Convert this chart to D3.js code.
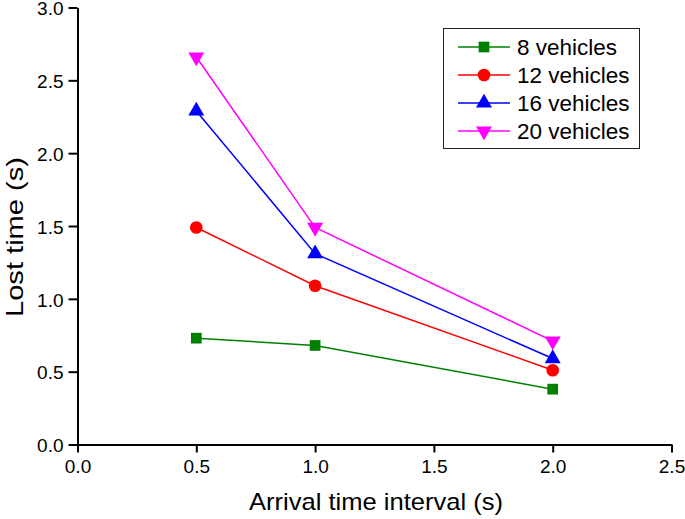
<!DOCTYPE html>
<html><head><meta charset="utf-8">
<script src="https://cdn.jsdelivr.net/npm/d3@7"></script>
<style>body{margin:0;background:#fff}svg{display:block}text{font-family:Arial,"Liberation Sans",sans-serif}</style>
</head><body>
<svg id="c" width="685" height="519"></svg>
<script>
const xValues = [0.5, 1.0, 2.0];
const seriesNames = ["8 vehicles", "12 vehicles", "16 vehicles", "20 vehicles"];
const seriesColors = ["#008000", "#ff0000", "#0000ff", "#ff00ff"];
const seriesSymbols = ["square", "circle", "triangle", "triangleDown"];
const v8 = [0.73, 0.68, 0.38];
const v12 = [1.49, 1.09, 0.51];
const v16 = [2.29, 1.31, 0.59];
const v20 = [2.66, 1.49, 0.71];
const seriesValues = [v8, v12, v16, v20];
const xTicks = [0, 0.5, 1.0, 1.5, 2.0, 2.5];
const yTicks = [0, 0.5, 1.0, 1.5, 2.0, 2.5, 3.0];

const svg = d3.select("#c");
const x = d3.scaleLinear().domain([0, 2.5]).range([77.5, 671.5]);
const y = d3.scaleLinear().domain([0, 3]).range([444.5, 7.5]);

const xa = svg.append("g").attr("transform", "translate(0,444.5)")
  .call(d3.axisBottom(x).tickValues(xTicks).tickFormat(d3.format(".1f")).tickSize(8).tickPadding(4).tickSizeOuter(0));
const ya = svg.append("g").attr("transform", "translate(77.5,0)")
  .call(d3.axisLeft(y).tickValues(yTicks).tickFormat(d3.format(".1f")).tickSize(9).tickPadding(5).tickSizeOuter(0));
[xa, ya].forEach(a => {
  a.selectAll("path.domain").attr("stroke", "#000").attr("stroke-width", 2);
  a.selectAll(".tick line").attr("stroke", "#000").attr("stroke-width", 2);
  a.selectAll(".tick text").attr("font-size", 19).attr("fill", "#000").attr("font-family", "Arial, 'Liberation Sans', sans-serif");
});
xa.selectAll(".tick text").attr("dy", "0.85em");
ya.selectAll(".tick text").attr("dy", "0.38em");

svg.append("text").attr("x", 376).attr("y", 510).attr("text-anchor", "middle")
  .attr("font-size", 24).attr("textLength", 254).attr("lengthAdjust", "spacingAndGlyphs")
  .text("Arrival time interval (s)");
svg.append("text").attr("transform", "translate(23,237) rotate(-90)").attr("text-anchor", "middle")
  .attr("font-size", 24).attr("textLength", 160).attr("lengthAdjust", "spacingAndGlyphs")
  .text("Lost time (s)");

function sym(kind, size) {
  const t = {square: d3.symbolSquare, circle: d3.symbolCircle, triangle: d3.symbolTriangle, triangleDown: d3.symbolTriangle}[kind];
  return d3.symbol().type(t).size(size)();
}
const symSize = {square: 115, circle: 125, triangle: 110, triangleDown: 110};

const line = d3.line().x((d, i) => x(xValues[i])).y(d => y(d));
seriesValues.forEach((vals, s) => {
  const g = svg.append("g");
  g.append("path").attr("d", line(vals)).attr("fill", "none")
    .attr("stroke", seriesColors[s]).attr("stroke-width", 1.5);
  vals.forEach((v, i) => {
    const k = seriesSymbols[s];
    g.append("path").attr("d", sym(k, symSize[k]))
      .attr("transform", `translate(${x(xValues[i])},${y(v)})` + (k === "triangleDown" ? " rotate(180)" : ""))
      .attr("fill", seriesColors[s]);
  });
});

// legend
const lg = svg.append("g");
lg.append("rect").attr("x", 443.5).attr("y", 28.5).attr("width", 196).attr("height", 120)
  .attr("fill", "#fff").attr("stroke", "#222").attr("stroke-width", 1);
seriesNames.forEach((name, s) => {
  const yy = 47 + s * 28;
  lg.append("line").attr("x1", 458).attr("x2", 510).attr("y1", yy).attr("y2", yy)
    .attr("stroke", seriesColors[s]).attr("stroke-width", 1.5);
  const k = seriesSymbols[s];
  lg.append("path").attr("d", sym(k, symSize[k]))
    .attr("transform", `translate(484,${yy})` + (k === "triangleDown" ? " rotate(180)" : ""))
    .attr("fill", seriesColors[s]);
  lg.append("text").attr("x", 517).attr("y", yy + 8).attr("font-size", 22.5).text(name);
});
</script>
</body></html>
